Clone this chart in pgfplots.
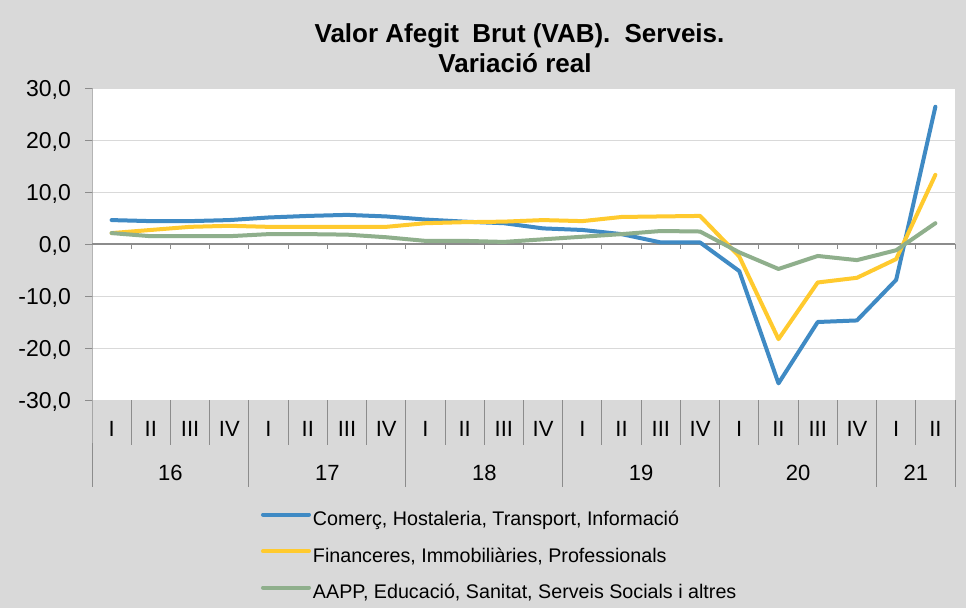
\documentclass[border=0pt]{standalone}
\usepackage{pgfplots}
\usepackage{pgfplotstable}
\pgfplotsset{compat=1.18}
\usepackage{fontspec}
\setmainfont{Liberation Sans}
\definecolor{bg}{HTML}{D9D9D9}
\definecolor{cblue}{HTML}{3F8AC4}
\definecolor{cyellow}{HTML}{FFCA2E}
\definecolor{cgreen}{HTML}{8FAF8C}
\definecolor{axgray}{HTML}{8C8C8C}
\definecolor{gridgray}{HTML}{D9D9D9}

\pgfplotstableread{
idx blue yellow green
0 4.6 2.1 2.1
1 4.4 2.7 1.5
2 4.4 3.3 1.5
3 4.6 3.5 1.5
4 5.1 3.3 1.9
5 5.4 3.3 1.9
6 5.6 3.3 1.8
7 5.3 3.3 1.3
8 4.7 4.0 0.6
9 4.3 4.2 0.6
10 4.0 4.3 0.4
11 3.0 4.6 0.9
12 2.7 4.4 1.4
13 1.9 5.2 1.9
14 0.3 5.3 2.5
15 0.3 5.4 2.4
16 -5.2 -2.4 -1.6
17 -26.8 -18.3 -4.8
18 -15.0 -7.4 -2.3
19 -14.7 -6.5 -3.1
20 -6.9 -2.9 -1.2
21 26.4 13.3 4.0
}\data

\begin{document}
\begin{tikzpicture}
\fill[bg] (0pt,0pt) rectangle (966pt,608pt);
\useasboundingbox (0pt,0pt) rectangle (966pt,608pt);
\node[anchor=base, font=\fontsize{26}{30}\selectfont\bfseries] at (519.5pt,565pt) {Valor Afegit\hspace{6pt} Brut (VAB).\hspace{7pt} Serveis.};
\node[anchor=base, font=\fontsize{26}{30}\selectfont\bfseries] at (515pt,535pt) {Variació real};
\begin{axis}[
  at={(92pt,208pt)}, anchor=south west,
  width=863pt, height=312pt, scale only axis,
  xmin=-0.5, xmax=21.5, ymin=-30, ymax=30,
  axis line style={draw=none},
  axis background/.style={fill=white},
  ytick={-30,-20,-10,0,10,20,30},
  yticklabels={{-30,0},{-20,0},{-10,0},{0,0},{10,0},{20,0},{30,0}},
  yticklabel style={anchor=base east, inner sep=0pt, xshift=-21pt, yshift=-8pt, font=\fontsize{23}{23}\selectfont},
  xtick={0,...,21},
  xticklabels={I,II,III,IV,I,II,III,IV,I,II,III,IV,I,II,III,IV,I,II,III,IV,I,II},
  xticklabel style={anchor=base, inner sep=0pt, yshift=-36pt, font=\fontsize{22}{22}\selectfont},
  major tick length=0pt,
  ymajorgrids, grid style={gridgray, line width=1pt},
  clip=false,
  legend cell align=left,
  legend style={at={(0.1958,-0.361)}, anchor=north west, draw=none, fill=none,
    inner sep=0pt, outer sep=0pt, row sep=18.5pt, column sep=2pt,
    font=\fontsize{19.7}{20}\selectfont,
    nodes={inner sep=0pt, text height=13pt, text depth=5pt}},
  legend image code/.code={\draw[#1] (0pt,7pt) -- (46pt,7pt);},
]
% y axis line and ticks
\draw[axgray, line width=1pt] (axis cs:-0.5,30) -- (axis cs:-0.5,-30) -- ++(0pt,-87pt);
\pgfplotsinvokeforeach{-30,-20,-10,0,10,20,30}{
  \draw[axgray, line width=1pt] (axis cs:-0.5,#1) -- ++(-7pt,0pt);
}
% separators below the plot
\pgfplotsinvokeforeach{0.5,1.5,2.5,4.5,5.5,6.5,8.5,9.5,10.5,12.5,13.5,14.5,16.5,17.5,18.5,20.5}{
  \draw[axgray, line width=1pt] (axis cs:#1,-30) -- ++(0pt,-45pt);
}
\pgfplotsinvokeforeach{3.5,7.5,11.5,15.5,19.5,21.5}{
  \draw[axgray, line width=1pt] (axis cs:#1,-30) -- ++(0pt,-87pt);
}
% zero line with ticks
\draw[axgray, line width=1.2pt] (axis cs:-0.5,0) -- (axis cs:21.5,0);
\pgfplotsinvokeforeach{0.5,1.5,2.5,3.5,4.5,5.5,6.5,7.5,8.5,9.5,10.5,11.5,12.5,13.5,14.5,15.5,16.5,17.5,18.5,19.5,20.5,21.5}{
  \draw[axgray, line width=1pt] (axis cs:#1,0) -- ++(0pt,-5pt);
}
% year labels
\node[anchor=base, inner sep=0pt, yshift=-80pt, font=\fontsize{22}{22}\selectfont] at (axis cs:1.5,-30) {16};
\node[anchor=base, inner sep=0pt, yshift=-80pt, font=\fontsize{22}{22}\selectfont] at (axis cs:5.5,-30) {17};
\node[anchor=base, inner sep=0pt, yshift=-80pt, font=\fontsize{22}{22}\selectfont] at (axis cs:9.5,-30) {18};
\node[anchor=base, inner sep=0pt, yshift=-80pt, font=\fontsize{22}{22}\selectfont] at (axis cs:13.5,-30) {19};
\node[anchor=base, inner sep=0pt, yshift=-80pt, font=\fontsize{22}{22}\selectfont] at (axis cs:17.5,-30) {20};
\node[anchor=base, inner sep=0pt, yshift=-80pt, font=\fontsize{22}{22}\selectfont] at (axis cs:20.5,-30) {21};

\addplot[cblue, line width=4pt, line join=round, line cap=round] table[x=idx, y=blue] {\data};
\addlegendentry{Comerç, Hostaleria, Transport, Informació}
\addplot[cyellow, line width=4pt, line join=round, line cap=round] table[x=idx, y=yellow] {\data};
\addlegendentry{Financeres, Immobiliàries, Professionals}
\addplot[cgreen, line width=4pt, line join=round, line cap=round] table[x=idx, y=green] {\data};
\addlegendentry{AAPP, Educació, Sanitat, Serveis Socials i altres}
\end{axis}
\end{tikzpicture}
\end{document}
